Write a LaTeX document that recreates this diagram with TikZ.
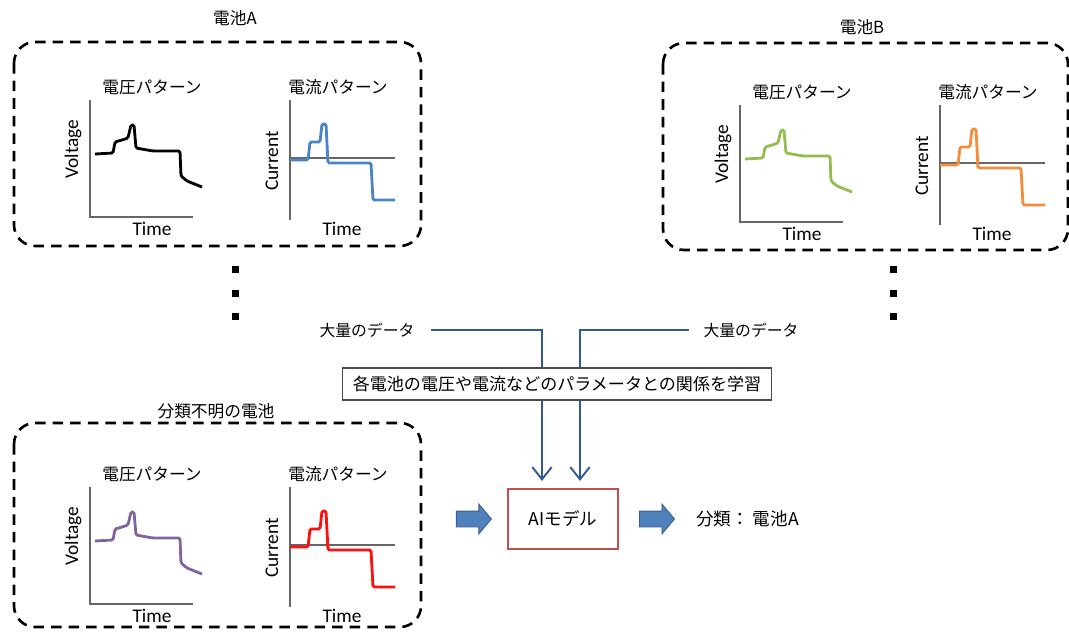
\documentclass[tikz,border=0pt]{standalone}
\usepackage{fontspec}
\setmainfont{Carlito}
\newfontfamily\jp{Noto Sans CJK JP}
\usetikzlibrary{positioning,shapes.arrows,arrows.meta}

\definecolor{flowblue}{HTML}{305A94}
\definecolor{curveblue}{HTML}{4A84C4}
\definecolor{curvegreen}{HTML}{94BC50}
\definecolor{curveorange}{HTML}{F58E3C}
\definecolor{curvepurple}{HTML}{8064A2}
\definecolor{curvered}{HTML}{FF1010}
\definecolor{aired}{HTML}{C0504D}
\definecolor{arrowfill}{HTML}{4F81BD}
\definecolor{arrowdraw}{HTML}{385D8A}

\tikzset{
  panelbox/.style={line width=1.5pt, dash pattern=on 6pt off 4pt, rounded corners=12pt},
  paneltitle/.style={font=\jp\fontsize{9.5}{11}\selectfont},
  plottitle/.style={font=\jp\fontsize{9.5}{11}\selectfont},
  axislabel/.style={font=\fontsize{11}{13}\selectfont},
  axisline/.style={draw=black!60, line width=0.6pt},
  curve/.style={line width=1.6pt, rounded corners=0.8pt},
  datalabel/.style={font=\jp\fontsize{9}{11}\selectfont},
  learnbox/.style={draw=black!70, fill=white, line width=0.6pt, minimum width=8.58cm, minimum height=0.64cm, font=\jp\fontsize{9.7}{11}\selectfont},
  aibox/.style={draw=aired, line width=1.2pt, minimum width=2.2cm, minimum height=1.2cm, font=\jp\fontsize{10}{12}\selectfont},
  blockarrow/.style={single arrow, fill=arrowfill, draw=arrowdraw, line width=0.5pt, inner xsep=0pt, inner ysep=0.15cm, minimum height=0.7cm, single arrow head extend=0.14cm, single arrow tip angle=100},
  dataflow/.style={draw=flowblue, line width=1.1pt, -{Straight Barb[length=7pt,width=11pt]}}
}

\newcommand{\cellplots}[4]{%
  \begin{scope}[shift={(#1,#2)}]
    \node[plottitle] (vtitle) at (152,87) {電圧パターン};
    \draw[axisline] (90,100) -- (90,217) -- (193,217);
    \node[axislabel] (vtime) at (152,229) {Time};
    \node[axislabel, rotate=90] (vname) at (73,149) {Voltage};
    \draw[curve, #3] (95,154) -- (113,153) -- (115,142) -- (122,140) -- (128,138) -- (131,125) -- (134,125) -- (136,148) -- (153,151) -- (180,151) -- (181,176) -- (187,181) -- (202,187);
    \node[plottitle] (ctitle) at (338,87) {電流パターン};
    \draw[axisline] (290,100) -- (290,220);
    \draw[axisline] (290,158) -- (395,158);
    \node[axislabel] (ctime) at (342,229) {Time};
    \node[axislabel, rotate=90] (cname) at (272,161) {Current};
    \draw[curve, #4] (290,160) -- (308,160) -- (310,142) -- (320,142) -- (322,124) -- (326,124) -- (328,163) -- (371,163) -- (373,200) -- (395,200);
  \end{scope}}

\begin{document}
\begin{tikzpicture}[x=0.02cm, y=-0.02cm]
  \useasboundingbox (0,0) rectangle (1069,632);

  \draw[panelbox] (14,42) rectangle (421,246);
  \node[paneltitle] (titleA) at (235,18) {電池A};
  \cellplots{0}{0}{black}{curveblue}

  \draw[panelbox] (663,43) rectangle (1068,250);
  \node[paneltitle] (titleB) at (862,27) {電池B};
  \cellplots{650}{5}{curvegreen}{curveorange}

  \draw[panelbox] (14,423) rectangle (421,627);
  \node[paneltitle] (titleU) at (216,411) {分類不明の電池};
  \cellplots{0}{387}{curvepurple}{curvered}

  \foreach \y in {269,293,316} {
    \fill (231.5,\y) ++(0,-3.5) rectangle ++(7,7);
    \fill (889.5,\y) ++(0,-3.5) rectangle ++(7,7);
  }

  \node[datalabel] (dataL) at (367,330) {大量のデータ};
  \node[datalabel] (dataR) at (751,330) {大量のデータ};
  \node[aibox] (ai) at (563,519) {AIモデル};
  \node[blockarrow, left=0.3cm of ai] (inArrow) {};
  \node[blockarrow, right=0.4cm of ai] (outArrow) {};
  \node[datalabel, font=\jp\fontsize{10}{12}\selectfont, right=0.3cm of outArrow] (result) {分類：\ 電池A};

  \draw[dataflow, shorten <=6pt, shorten >=4pt] (dataL.east) -| ([xshift=-0.42cm]ai.north);
  \draw[dataflow, shorten <=5pt, shorten >=4pt] (dataR.west) -| ([xshift=0.34cm]ai.north);
  \node[learnbox] (learn) at (557,384) {各電池の電圧や電流などのパラメータとの関係を学習};
\end{tikzpicture}
\end{document}
